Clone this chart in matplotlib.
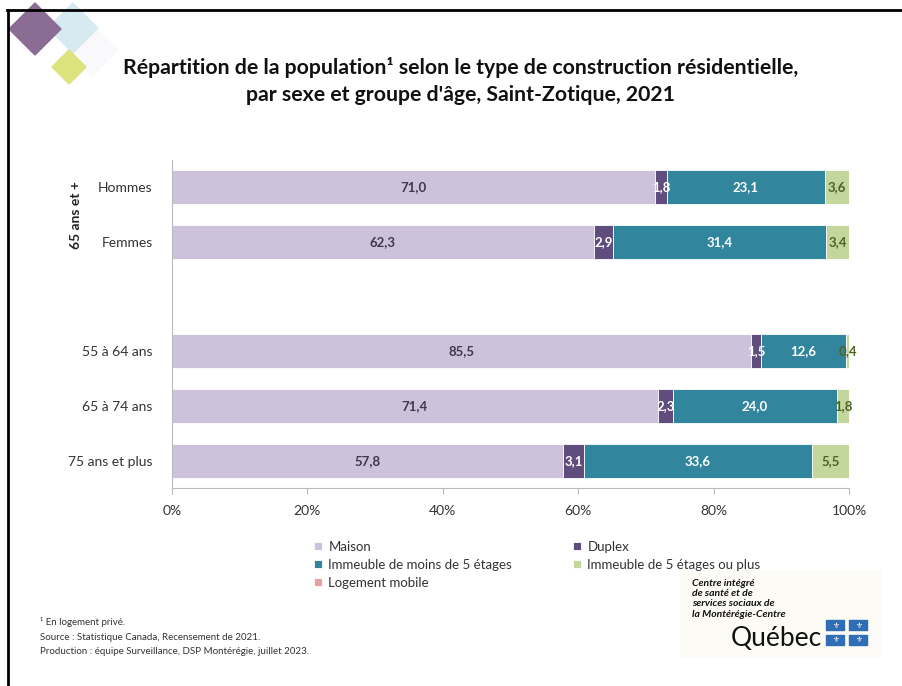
import matplotlib.pyplot as plt
from matplotlib.patches import Polygon, Rectangle
from matplotlib.ticker import PercentFormatter
import numpy as np

plt.rcParams['font.family'] = ['Lato', 'DejaVu Sans']

# data
categories = ['Hommes', 'Femmes', '', '55 à 64 ans', '65 à 74 ans', '75 ans et plus']
series_labels = ['Maison', 'Duplex', 'Immeuble de moins de 5 étages',
                 'Immeuble de 5 étages ou plus', 'Logement mobile']
maison = [71.0, 62.3, np.nan, 85.5, 71.4, 57.8]
duplex = [1.8, 2.9, np.nan, 1.5, 2.3, 3.1]
imm_moins5 = [23.1, 31.4, np.nan, 12.6, 24.0, 33.6]
imm_5plus = [3.6, 3.4, np.nan, 0.4, 1.8, 5.5]
mobile = [0.0, 0.0, np.nan, 0.0, 0.0, 0.0]

series_colors = ['#CEC1DC', '#614C7E', '#31859C', '#C3D79C', '#E6A1A1']
label_colors = ['#3F3A4A', 'white', 'white', '#4F6228', '#3F3A4A']

W, H = 902, 686
fig = plt.figure(figsize=(W / 100, H / 100), dpi=100)


def fx(px):
    return px / W


def fy(py):
    return 1 - py / H


ax = fig.add_axes([fx(172), fy(488), fx(849) - fx(172), fy(160) - fy(488)])

all_series = [maison, duplex, imm_moins5, imm_5plus, mobile]
totals = np.nansum(np.array(all_series, dtype=float), axis=0)
totals[totals == 0] = 1

# 100% stacked bars
y = np.arange(len(categories))
left = np.zeros(len(categories))
for vals, lab, col, tcol in zip(all_series, series_labels, series_colors, label_colors):
    vals = np.array(vals, dtype=float)
    v = np.nan_to_num(vals) / totals
    ax.barh(y, v, left=left, height=0.62, color=col, label=lab,
            edgecolor='white', linewidth=0.6)
    for i, val in enumerate(vals):
        if not np.isnan(val) and val > 0:
            ax.text(left[i] + v[i] / 2, y[i], f'{val:.1f}'.replace('.', ','),
                    ha='center', va='center', fontsize=9.5, fontweight='bold', color=tcol)
    left = left + v

ax.set_ylim(5.5, -0.5)
ax.set_xlim(0, 1)
ax.set_yticks([0, 1, 3, 4, 5])
ax.set_yticklabels([categories[i] for i in [0, 1, 3, 4, 5]], fontsize=10, color='#333333')
ax.tick_params(axis='y', length=0, pad=14)
ax.set_xticks(np.linspace(0, 1, 6))
ax.xaxis.set_major_formatter(PercentFormatter(xmax=1, decimals=0))
ax.tick_params(axis='x', length=4, color='#BBBBBB', labelsize=10, labelcolor='#333333', pad=8)
for s in ['top', 'right']:
    ax.spines[s].set_visible(False)
for s in ['left', 'bottom']:
    ax.spines[s].set_color('#BBBBBB')

fig.text(fx(76), fy(215), '65 ans et +', rotation=90, ha='center', va='center',
         fontsize=10, fontweight='bold', color='#222222')

# title
fig.text(fx(461), fy(68), 'Répartition de la population¹ selon le type de construction résidentielle,',
         ha='center', va='center', fontsize=15.3, fontweight='bold', color='#111111')
fig.text(fx(461), fy(95), "par sexe et groupe d'âge, Saint-Zotique, 2021",
         ha='center', va='center', fontsize=15.3, fontweight='bold', color='#111111')

# legend
h, l = ax.get_legend_handles_labels()
order = [0, 2, 4, 1, 3]
fig.legend([h[i] for i in order], [l[i] for i in order], ncol=2, frameon=False,
           loc='upper left', bbox_to_anchor=(fx(302), fy(529)), fontsize=9.5,
           handlelength=0.6, handleheight=0.6, handletextpad=0.5, columnspacing=4.6,
           labelspacing=0.45, labelcolor='#333333')

# footnotes
fig.text(fx(40), fy(622), '¹ En logement privé.', fontsize=7, color='#333333', va='center')
fig.text(fx(40), fy(637), 'Source : Statistique Canada, Recensement de 2021.', fontsize=7,
         color='#333333', va='center')
fig.text(fx(40), fy(651), 'Production : équipe Surveillance, DSP Montérégie, juillet 2023.',
         fontsize=7, color='#333333', va='center')

# logo
fig.patches.append(Rectangle((fx(680), fy(656)), fx(880) - fx(680), fy(570) - fy(656),
                             transform=fig.transFigure, color='#FCFBF6', zorder=0))
for k, line in enumerate(['Centre intégré', 'de santé et de', 'services sociaux de',
                          'la Montérégie-Centre']):
    fig.text(fx(692), fy(583 + k * 10.5), line, fontsize=7.5, fontweight='bold',
             style='italic', color='#111111', va='center')
fig.text(fx(822), fy(638), 'Québec', fontsize=19, color='#111111', ha='right', va='center')
for cx in [826, 849]:
    for cy in [620, 635]:
        fig.patches.append(Rectangle((fx(cx), fy(cy + 10)), fx(18), 10 / H,
                                     transform=fig.transFigure, color='#2F6DB5'))
        fig.text(fx(cx + 9), fy(cy + 5), '⚜', fontsize=5.5, color='white',
                 ha='center', va='center', family='DejaVu Sans')

# decorative diamonds
def diamond(cx, cy, r, color, alpha=1.0):
    pts = [(fx(cx), fy(cy - r)), (fx(cx + r), fy(cy)), (fx(cx), fy(cy + r)), (fx(cx - r), fy(cy))]
    fig.patches.append(Polygon(pts, closed=True, transform=fig.transFigure,
                               color=color, alpha=alpha, zorder=1))


diamond(92, 50, 26, '#F9F9FB')
diamond(73, 28, 25, '#D7EAF1')
diamond(35, 29, 26, '#8B6C93')
diamond(69, 67, 17, '#DCE27C')

# frame lines
fig.add_artist(plt.Line2D([fx(7), 1], [fy(10), fy(10)], transform=fig.transFigure,
                          color='black', linewidth=2))
fig.add_artist(plt.Line2D([fx(8), fx(8)], [fy(10), 0], transform=fig.transFigure,
                          color='black', linewidth=2))

fig.savefig('out.png', dpi=100)
